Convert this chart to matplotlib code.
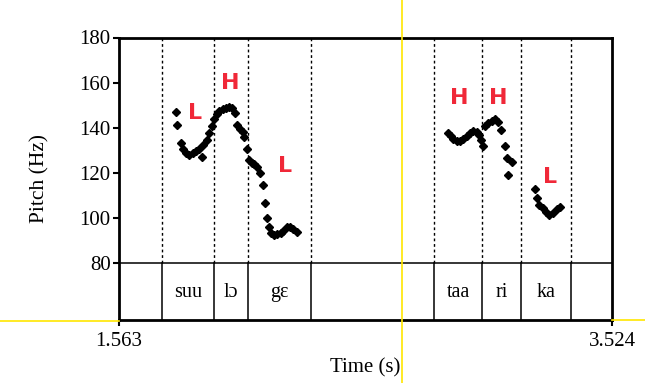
import matplotlib.pyplot as plt
from matplotlib.lines import Line2D

# pitch track (time s, Hz)
t_pitch = [1.790, 1.795, 1.808, 1.819, 1.830, 1.843, 1.856, 1.869, 1.880, 1.892,
           1.898, 1.912, 1.921, 1.932, 1.942, 1.952, 1.962, 1.976, 1.989, 2.002,
           2.013, 2.026, 2.034, 2.044, 2.055, 2.060, 2.071, 2.080, 2.091, 2.100,
           2.111, 2.124, 2.137, 2.143, 2.151, 2.161, 2.168, 2.180, 2.193, 2.206,
           2.217, 2.230, 2.243, 2.256, 2.270,
           2.871, 2.883, 2.893, 2.906, 2.920, 2.933, 2.946, 2.959, 2.972, 2.986,
           2.996, 3.003, 3.012, 3.019, 3.032, 3.046, 3.059, 3.072, 3.084, 3.099,
           3.108, 3.112, 3.125, 3.218, 3.225, 3.235, 3.249, 3.262, 3.275, 3.288,
           3.304, 3.317]
f0 = [146.8, 141.2, 133.3, 130.4, 128.9, 127.9, 128.6, 129.8, 130.7, 126.9,
      132.2, 134.5, 137.5, 140.8, 143.7, 146.0, 147.4, 148.3, 148.9, 149.3,
      148.6, 146.4, 141.0, 139.6, 138.2, 135.7, 130.6, 125.7, 124.5, 123.8,
      122.4, 119.8, 114.4, 106.7, 100.0, 96.1, 93.4, 92.3, 92.8, 93.1,
      94.3, 95.8, 96.1, 95.2, 93.9,
      137.8, 136.3, 135.1, 134.2, 133.9, 134.8, 136.3, 137.8, 138.4, 138.1,
      136.6, 134.5, 131.9, 140.8, 142.0, 143.1, 144.0, 142.5, 139.0, 131.9,
      126.6, 118.9, 124.9, 112.8, 109.0, 105.7, 104.2, 102.7, 101.3, 102.3,
      103.8, 104.9]

# syllable tier
bounds = [1.735, 1.941, 2.076, 2.327, 2.817, 3.007, 3.163, 3.360]
syllables = ['suu', 'lɔ', 'gɛ', 'taa', 'ri', 'ka']
syl_start = [1.735, 1.941, 2.076, 2.817, 3.007, 3.163]
syl_end = [1.941, 2.076, 2.327, 3.007, 3.163, 3.360]

# tone labels
tones = ['L', 'H', 'L', 'H', 'H', 'L']
tone_t = [1.865, 2.005, 2.223, 2.916, 3.071, 3.278]
tone_hz = [146.5, 159.8, 123.0, 153.2, 153.2, 118.1]

t_min, t_max = 1.563, 3.524
y_bottom = 54.7

serif = 'Liberation Serif'

fig = plt.figure(figsize=(6.45, 3.83), dpi=100)
ax = fig.add_axes([119 / 645, 63 / 383, 493 / 645, 282.5 / 383])

ax.plot(t_pitch, f0, linestyle='none', marker='D', markersize=3.8, color='black')

for b in bounds:
    ax.plot([b, b], [80, 180], color='black', lw=1, ls=(0, (2, 2)))
    ax.plot([b, b], [y_bottom, 80], color='black', lw=1.1)
ax.axhline(80, color='black', lw=1.1)

for s, a, e in zip(syllables, syl_start, syl_end):
    ax.text((a + e) / 2, 67.0, s, ha='center', va='center', fontsize=14.5,
            family=serif)

for lab, x, y in zip(tones, tone_t, tone_hz):
    ax.text(x, y, lab, ha='center', va='center', fontsize=16, fontweight='bold',
            color='#f02838', family='DejaVu Sans')

ax.set_xlim(t_min, t_max)
ax.set_ylim(y_bottom, 180)
ax.set_yticks([80, 100, 120, 140, 160, 180])
ax.set_xticks([t_min, t_max])
ax.set_xticklabels(['1.563', '3.524'])
ax.tick_params(axis='both', direction='out', length=4, width=1.5,
               labelsize=15, pad=2)
ax.tick_params(axis='x', pad=5)
for lbl in ax.get_xticklabels() + ax.get_yticklabels():
    lbl.set_family(serif)
for sp in ax.spines.values():
    sp.set_linewidth(2)

ax.set_xlabel('Time (s)', family=serif, fontsize=15, labelpad=5)
ax.set_ylabel('Pitch (Hz)', family=serif, fontsize=15.5)
ax.yaxis.set_label_coords(-0.14, 0.5)

# yellow cursor lines
cx = 402 / 645
fig.add_artist(Line2D([cx, cx], [0, 1], color='#ffe600', lw=1.2))
fig.add_artist(Line2D([0, 119 / 645], [62.5 / 383, 62.5 / 383], color='#ffe600', lw=1.2))
fig.add_artist(Line2D([612 / 645, 1], [63 / 383, 63 / 383], color='#ffe600', lw=1.2))

fig.savefig('out.png', dpi=100)
